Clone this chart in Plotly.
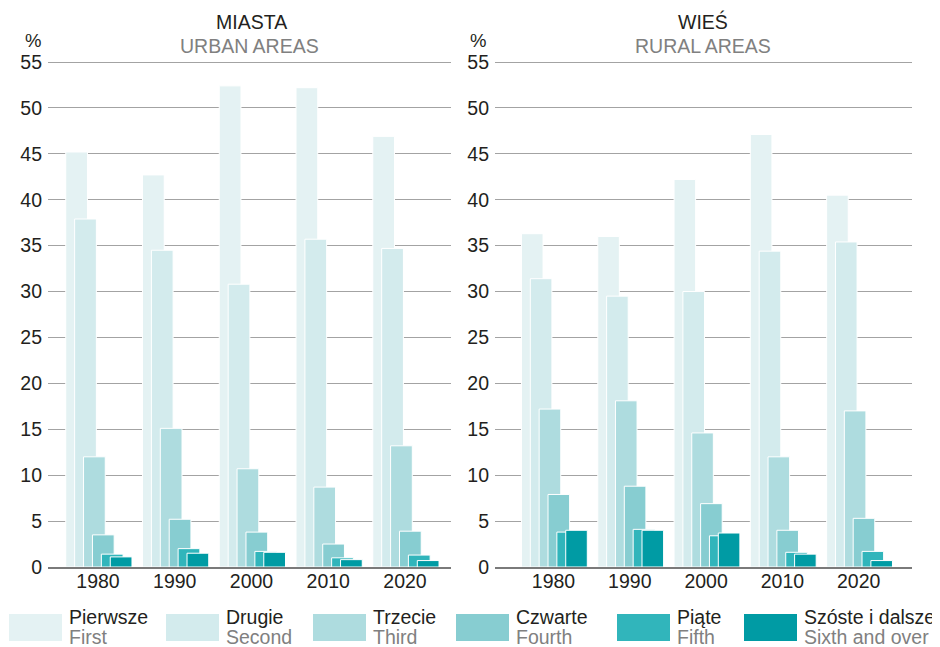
import plotly.graph_objects as go

# page body has an 8px margin, so the figure is placed at (8, 8)
OX, OY = 8, 8
W, H = 932, 639

years = ["1980", "1990", "2000", "2010", "2020"]
series_pl = ["Pierwsze", "Drugie", "Trzecie", "Czwarte", "Piąte", "Szóste i dalsze"]
series_en = ["First", "Second", "Third", "Fourth", "Fifth", "Sixth and over"]
colors = ["#e4f2f3", "#d3ebed", "#aedcdf", "#87cdd1", "#31b5bb", "#009ba4"]

# urban areas (MIASTA)
urban_first = [45.2, 42.7, 52.4, 52.2, 46.9]
urban_second = [37.9, 34.5, 30.8, 35.7, 34.7]
urban_third = [12.0, 15.1, 10.7, 8.7, 13.2]
urban_fourth = [3.5, 5.2, 3.8, 2.5, 3.9]
urban_fifth = [1.4, 2.0, 1.7, 1.0, 1.3]
urban_sixth = [1.1, 1.5, 1.6, 0.8, 0.7]

# rural areas (WIEŚ)
rural_first = [36.3, 36.0, 42.2, 47.1, 40.5]
rural_second = [31.4, 29.5, 30.0, 34.4, 35.4]
rural_third = [17.2, 18.1, 14.6, 12.0, 17.0]
rural_fourth = [7.9, 8.8, 6.9, 4.0, 5.3]
rural_fifth = [3.8, 4.1, 3.4, 1.6, 1.7]
rural_sixth = [4.0, 4.0, 3.7, 1.4, 0.7]

urban = [urban_first, urban_second, urban_third, urban_fourth, urban_fifth, urban_sixth]
rural = [rural_first, rural_second, rural_third, rural_fourth, rural_fifth, rural_sixth]

yticks = [0, 5, 10, 15, 20, 25, 30, 35, 40, 45, 50, 55]


def px(x):
    return (x - OX) / W


def py(y):
    return 1 - (y - OY) / H


FONT = "Liberation Sans, Arial, sans-serif"
BLACK = "#231f20"
GRAY = "#808080"
FS = 19.5

fig = go.Figure()
xpos = list(range(len(years)))
bar_w = 0.283
off0 = -0.42
step = 0.116

for panel, (data, xa, ya) in enumerate([(urban, "x", "y"), (rural, "x2", "y2")]):
    for i, vals in enumerate(data):
        fig.add_trace(go.Bar(
            x=xpos, y=vals, xaxis=xa, yaxis=ya,
            width=[bar_w] * len(xpos), offset=off0 + i * step,
            marker=dict(color=colors[i], line=dict(color="white", width=1)),
            name=series_pl[i], showlegend=False,
        ))

ppu = (567 - 62) / 55.0
ymax = 55.25
ydom = [py(567), py(567 - ymax * ppu)]
axis_common_y = dict(
    range=[0, ymax], tickvals=yticks, showgrid=True, gridcolor="#a3a3a3", gridwidth=1.3,
    zeroline=False, showline=False, ticks="", ticklabelstandoff=5, automargin=False,
    tickfont=dict(family=FONT, size=FS, color=BLACK), domain=ydom, fixedrange=True,
)
axis_common_x = dict(
    tickvals=xpos, ticktext=years, showgrid=False, zeroline=False, automargin=False,
    showline=True, linecolor="#7a7a7a", linewidth=1.6, ticks="",
    tickfont=dict(family=FONT, size=FS, color=BLACK), ticklabelstandoff=-4,
)

fig.update_layout(
    template="none",
    width=W, height=H, margin=dict(l=0, r=0, t=0, b=0, pad=0, autoexpand=False),
    paper_bgcolor="white", plot_bgcolor="white",
    barmode="overlay", showlegend=False,
    xaxis=dict(domain=[px(48), px(451)], range=[-0.651, 4.599], anchor="y", **axis_common_x),
    xaxis2=dict(domain=[px(495), px(912)], range=[-0.767, 4.699], anchor="y2", **axis_common_x),
    yaxis=dict(anchor="x", **axis_common_y),
    yaxis2=dict(anchor="x2", **axis_common_y),
)

ann = []


def text(x, y, s, color=BLACK, xanchor="center", size=FS):
    ann.append(dict(x=px(x), y=py(y), xref="paper", yref="paper", text=s, showarrow=False,
                    xanchor=xanchor, yanchor="middle",
                    font=dict(family=FONT, size=size, color=color)))


text(251, 22, "MIASTA")
text(249, 46, "URBAN AREAS", GRAY)
text(703, 22, "WIEŚ")
text(703, 46, "RURAL AREAS", GRAY)
text(33, 41, "%", size=18.5)
text(478, 41, "%", size=18.5)

shapes = []
sw_x = [9, 166, 313, 456, 617, 744]
for i in range(6):
    shapes.append(dict(type="rect", xref="paper", yref="paper",
                       x0=px(sw_x[i]), x1=px(sw_x[i] + 53), y0=py(641), y1=py(614),
                       fillcolor=colors[i], line=dict(width=0)))
    text(sw_x[i] + 58, 617, series_pl[i], BLACK, "left")
    text(sw_x[i] + 58, 637, series_en[i], GRAY, "left")

fig.update_layout(annotations=ann, shapes=shapes)

fig.write_html("out.html")
